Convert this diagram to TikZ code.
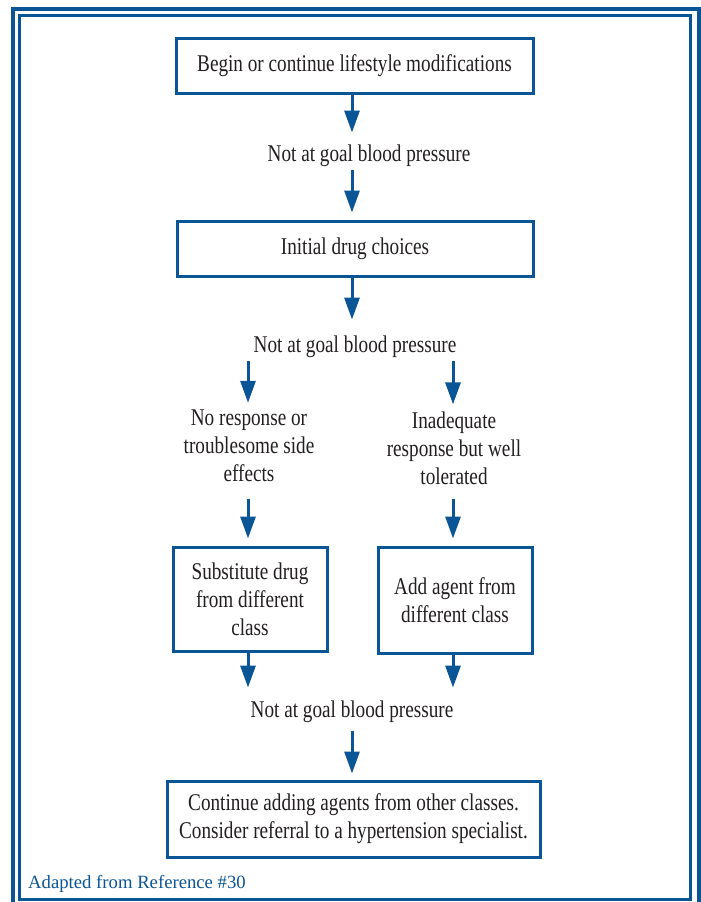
\documentclass[tikz,border=0pt]{standalone}
\usepackage{fontspec}
\setmainfont{Liberation Serif}[FakeStretch=0.8]
\newfontfamily\srcfont{Liberation Serif}
\usetikzlibrary{arrows.meta}
\definecolor{frameblue}{RGB}{10,85,150}
\definecolor{inkgray}{RGB}{35,31,32}

\begin{document}
\begin{tikzpicture}[x=1pt, y=-1pt,
  font=\fontsize{24}{28}\selectfont,
  box/.style={draw=frameblue, line width=3pt, inner sep=0pt, align=center, text=inkgray},
  lbl/.style={inner sep=0pt, align=center, text=inkgray},
  arrow/.style={-{Triangle[width=15pt, length=22pt]}, line width=3pt, frameblue}
]
  \useasboundingbox (0,0) rectangle (701,902);
  \clip (0,0) rectangle (701,902);

  % double frame
  \draw[frameblue, line width=4pt] (13,8.5) rectangle (699,915);
  \draw[frameblue, line width=3pt] (19.5,15.5) rectangle (690,899.5);

  % columns for the arrows
  \coordinate (spine) at (352,0);
  \coordinate (lcol) at (248,0);
  \coordinate (rcol) at (453,0);

  \node[box, minimum width=357pt, minimum height=55pt] (mods) at (354.5,65.5) {Begin or continue lifestyle modifications};
  \node[lbl, anchor=base] (goal1) at (369,161) {Not at goal blood pressure};
  \node[box, minimum width=356pt, minimum height=55pt] (initial) at (355,248.5) {Initial drug choices};
  \node[lbl, anchor=base] (goal2) at (355,352) {Not at goal blood pressure};

  \node[lbl] (noresp) at (249,446) {No response or\\troublesome side\\effects};
  \node[lbl] (inadeq) at (454,448) {Inadequate\\response but well\\tolerated};
  \node[box, minimum width=154pt, minimum height=104pt] (subst) at (250,599) {Substitute drug\\from different\\class};
  \node[box, minimum width=154pt, minimum height=106pt] (addagent) at (455,600) {Add agent from\\different class};

  \node[lbl, anchor=base] (goal3) at (352,717) {Not at goal blood pressure};
  \node[box, minimum width=373pt, minimum height=76pt] (cont) at (353.5,819) {Continue adding agents from other classes.\\Consider referral to a hypertension specialist.};

  \node[anchor=base west, inner sep=0pt, text=frameblue, font=\srcfont\fontsize{18.7}{22}\selectfont] (src) at (28,888) {Adapted from Reference \#30};

  % arrows
  \draw[arrow, shorten >=11.6pt] (mods.south -| spine) -- (goal1.north -| spine);
  \draw[arrow, shorten <=4pt, shorten >=7pt] (goal1.south -| spine) -- (initial.north -| spine);
  \draw[arrow, shorten >=15.6pt] (initial.south -| spine) -- (goal2.north -| spine);
  \foreach \n/\c in {noresp/lcol, inadeq/rcol}
    \draw[arrow, shorten <=4pt, shorten >=7pt] (goal2.south -| \c) -- (\n.north -| \c);
  \draw[arrow, shorten <=17pt, shorten >=7pt] (noresp.south -| lcol) -- (subst.north -| lcol);
  \draw[arrow, shorten <=14pt, shorten >=7pt] (inadeq.south -| rcol) -- (addagent.north -| rcol);
  \foreach \n/\c in {subst/lcol, addagent/rcol}
    \draw[arrow, shorten >=12.6pt] (\n.south -| \c) -- (goal3.north -| \c);
  \draw[arrow, shorten <=9pt, shorten >=6pt] (goal3.south -| spine) -- (cont.north -| spine);
\end{tikzpicture}
\end{document}
